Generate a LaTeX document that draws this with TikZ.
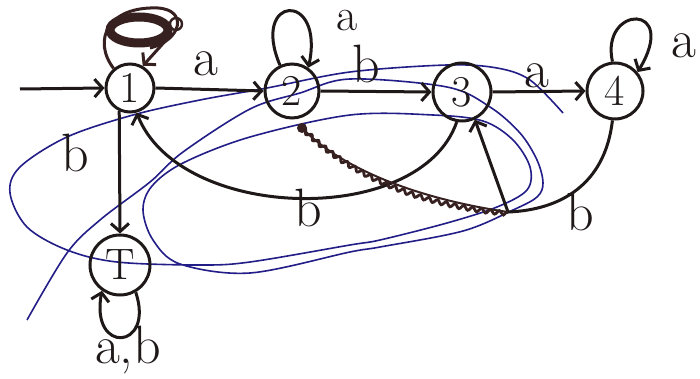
\documentclass[tikz,border=0pt]{standalone}
\usepackage{fontspec}
\usetikzlibrary{arrows.meta,decorations.pathmorphing}
\definecolor{ink}{RGB}{30,24,24}
\definecolor{blueink}{RGB}{35,30,135}
\definecolor{scrib}{RGB}{55,32,32}
\begin{document}
\begin{tikzpicture}[x=1pt,y=-1pt,
  st/.style={circle,draw=ink,line width=3pt,inner sep=0pt,text=ink,font=\fontsize{44pt}{44pt}\selectfont},
  edge/.style={draw=ink,line width=3pt},
  arr/.style={edge,-{Straight Barb[length=8pt,width=18pt]}},
  lbl/.style={text=ink,font=\fontsize{54pt}{54pt}\selectfont,inner sep=0pt},
  blue/.style={draw=blueink,line width=1.6pt}
  ]
\useasboundingbox (0,0) rectangle (700,379);
\fill[white] (0,0) rectangle (700,379);
% blue scribble
\draw[blue] plot[smooth,tension=0.55] coordinates {(27,320) (67,253) (100,220) (150,182) (183,152) (250,109) (300,93) (350,79) (447,87) (490,107) (520,133) (537,160) (543,183) (537,197) (513,210) (463,231) (380,247) (350,252) (250,273) (180,264) (153,240) (143,210) (152,186) (183,163) (250,137) (350,115) (433,115) (483,121) (513,140) (530,167) (527,190) (497,207) (447,223) (380,240) (350,245) (250,262) (200,265) (117,262) (67,250) (27,227) (10,193) (20,167) (67,137) (133,115) (200,100) (267,88) (350,72) (447,65) (497,68) (530,80) (563,113)};
% states
\node[st,minimum size=48pt] (n1) at (130,88) {1};
\node[st,minimum size=54pt] (n2) at (292,91) {2};
\node[st,minimum size=58pt] (n3) at (462,92) {3};
\node[st,minimum size=56pt] (n4) at (615,91) {4};
\node[st,minimum size=60pt] (nT) at (120,265) {T};
% start
\coordinate (s) at (20,89);
\draw[arr] (s) -- (n1.west);
% straight transitions
\draw[arr] (n1.east) -- (n2.west);
\draw[arr] (n2.east) -- (n3.west);
\draw[arr] (n3.east) -- (n4.west);
\draw[arr] (n1.-115) -- (nT.north);
% loops
\draw[arr] (n2.115) .. controls (250,-5) and (325,-10) .. (n2.55);
\draw[arr] (n4.95) .. controls (600,5) and (680,2) .. (n4.40);
\draw[arr] (nT.-60) .. controls (155,350) and (90,355) .. (nT.-125);
% scribbled loop on 1
\draw[scrib,line width=9pt] (139,30) ellipse [x radius=29, y radius=13];
\draw[scrib,line width=3pt] (n1.130) .. controls (92,40) and (108,6) .. (158,8) .. controls (188,10) and (182,40) .. (150,48);
\draw[scrib,line width=2.4pt] (176,24) circle [radius=6];
\draw[arr,draw=scrib] (168,38) -- (n1.60);
% curved transitions
\draw[arr] (n3.-100) .. controls (420,228) and (180,222) .. (n1.-75);
\coordinate (c) at (508,212);
\draw[arr] (n4.-95) .. controls (605,185) and (560,210) .. (c) -- (n3.-65);
\coordinate (d) at (302,128);
\fill[scrib] (d) circle [radius=5];
\draw[scrib,line width=2.8pt,decorate,decoration={snake,amplitude=2pt,segment length=9pt}] (d) .. controls (350,175) and (420,205) .. (c);
\draw[scrib,line width=2pt] (d) .. controls (345,172) and (425,200) .. (c);
% labels
\node[lbl] (l12) at (206,64) {a};
\node[lbl] (l23) at (366,64) {b};
\node[lbl] (l34) at (537,76) {a};
\node[lbl,font=\fontsize{46pt}{46pt}\selectfont] (l22) at (347,21) {a};
\node[lbl] (l44) at (684,46) {a};
\node[lbl] (l1T) at (75,153) {b};
\node[lbl] (lTT) at (128,350) {a,b};
\node[lbl] (l31) at (308,208) {b};
\node[lbl] (l43) at (580,212) {b};
\end{tikzpicture}
\end{document}
